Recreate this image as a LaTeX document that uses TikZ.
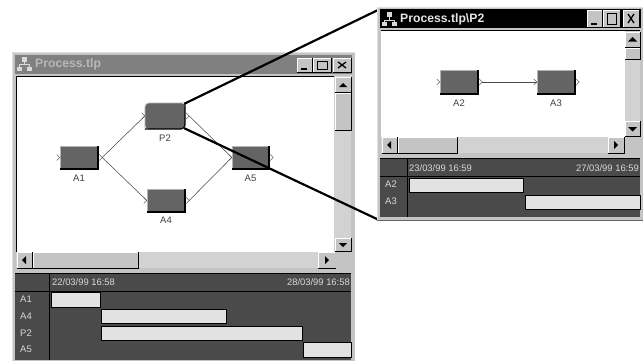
\documentclass[tikz,border=0pt]{standalone}
\usepackage{fontspec}
\setmainfont{Liberation Sans}
\definecolor{winbg}{HTML}{C4C4C4}
\definecolor{ganttbg}{HTML}{4A4A4A}
\definecolor{barfill}{HTML}{E2E2E2}
\definecolor{nodefill}{HTML}{646464}
\definecolor{hatch}{HTML}{D2D2D2}
\definecolor{titlegray}{HTML}{808080}
\definecolor{titletext}{HTML}{B8B8B8}
\definecolor{ganttxt}{HTML}{D8D8D8}
\tikzset{
  x=1pt,y=-1pt,
  lbl/.style={font=\fontsize{9.5}{10}\selectfont,text=black!75,inner sep=0pt},
  hdr/.style={font=\fontsize{9.4}{10}\selectfont,text=ganttxt,inner sep=0pt},
  rowlbl/.style={font=\fontsize{9.5}{10}\selectfont,text=ganttxt,inner sep=0pt,anchor=west},
  conn/.style={draw=black!70,line width=.55pt},
  port/.style={draw=black!60,line width=.5pt},
  zoomline/.style={draw=black,line width=2.2pt},
  proc/.style={fill=nodefill,inner sep=0pt,draw=none},
  gbar/.style={fill=barfill,draw=black,line width=.6pt},
  gline/.style={draw=black,line width=.8pt}
}
% raised 3D box
\newcommand{\raisedbox}[5][winbg]{%
  \fill[#1] (#2,#3) rectangle (#4,#5);
  \draw[white,line width=.8pt] (#2,#5) -- (#2,#3) -- (#4,#3);
  \draw[black,line width=.9pt] (#2,#5) -- (#4,#5) -- (#4,#3);
}
% process box: name, x1, y1, x2, y2, label, label y, extra options
\newcommand{\procbox}[8][]{%
  \node[proc,#1,minimum width=#4pt-#2pt,minimum height=#5pt-#3pt] (#8) at ({(#2+#4)/2},{(#3+#5)/2}) {};
  \draw[black!30,line width=.8pt,#1] (#2,#5) -- (#2,#3) -- (#4,#3);
  \draw[black,line width=1.1pt,#1] (#2,#5) -- (#4,#5) -- (#4,#3);
  \draw[port] ([xshift=-3pt,yshift=3pt]#8.west) -- (#8.west) -- ([xshift=-3pt,yshift=-3pt]#8.west);
  \draw[port] ([xshift=1pt,yshift=3pt]#8.east) -- ([xshift=4pt]#8.east) -- ([xshift=1pt,yshift=-3pt]#8.east);
  \node[lbl] (#8label) at ({(#2+#4)/2},#7) {#6};
}
\newcommand{\titlebtns}[9]{%
  \raisedbox{#3}{#1}{#4}{#2}
  \raisedbox{#5}{#1}{#6}{#2}
  \raisedbox{#7}{#1}{#8}{#2}
  \draw[black,line width=1.3pt] (#3+4,#2-3) -- (#3+10,#2-3);
  \draw[black,line width=.7pt] (#5+4,#1+3) rectangle (#6-4,#2-3);
  \draw[black,line width=1.4pt] (#5+4,#1+3.5) -- (#6-4,#1+3.5);
  \draw[black,line width=1.3pt] (#7+5,#1+4) -- (#8-5,#2-4) (#7+5,#2-4) -- (#8-5,#1+4);
}
\newcommand{\treeicon}[3]{%
  \fill[#3] (#1+5,#2) rectangle (#1+10,#2+5);
  \draw[#3,line width=1pt] (#1+7.5,#2+5) -- (#1+7.5,#2+8) (#1+2.5,#2+10) -- (#1+2.5,#2+8) -- (#1+12.5,#2+8) -- (#1+12.5,#2+10);
  \fill[#3] (#1,#2+10) rectangle (#1+5,#2+14);
  \fill[#3] (#1+10,#2+10) rectangle (#1+15,#2+14);
}
\begin{document}
\begin{tikzpicture}
\useasboundingbox (0,0) rectangle (644,362);
\fill[white] (0,0) rectangle (644,362);

% ===== LEFT WINDOW =====
\fill[winbg] (12,52) rectangle (355,361);
\draw[black!12,line width=.8pt] (12,361) -- (12,52) -- (355,52);
\fill[titlegray] (15,55) rectangle (352,74);
\treeicon{17}{56.5}{white!85!black}
\node[anchor=west,inner sep=0pt,text=titletext,font=\bfseries\fontsize{12.2}{14}\selectfont] (lefttitle) at (35,64) {Process.tlp};
\titlebtns{58}{72}{297}{312}{313}{331}{333}{351}{}
\fill[white] (16,76) rectangle (334,252);
\draw[black,line width=.8pt] (16,76) -- (351,76) (16,76) -- (16,268);
% vertical scrollbar
\fill[hatch] (334,76) rectangle (351,252);
\raisedbox{335}{77}{351}{92}
\fill[black] (339,87) -- (347,87) -- (343,83) -- cycle;
\raisedbox{335}{93}{351}{130}
\raisedbox{335}{238}{351}{251}
\fill[black] (339,243) -- (347,243) -- (343,247) -- cycle;
% horizontal scrollbar
\fill[hatch] (16,252) rectangle (334,268);
\raisedbox{17}{252}{32}{268}
\fill[black] (26,256) -- (26,264) -- (22,260) -- cycle;
\raisedbox{33}{252}{138}{268}
\raisedbox{318}{252}{335}{268}
\fill[black] (325,256) -- (325,264) -- (329,260) -- cycle;
\fill[winbg] (335,252) rectangle (351,268);
% process nodes
\procbox{60}{146}{98}{169}{A1}{178}{A1}
\procbox[rounded corners=4pt]{145}{103}{185}{129}{P2}{138}{P2}
\procbox{147}{189}{185}{212}{A4}{220}{A4}
\procbox{232}{146}{269}{169}{A5}{178}{A5}
\draw[conn] ([xshift=4pt]A1.east) -- (P2.west);
\draw[conn] ([xshift=4pt]A1.east) -- (A4.west);
\draw[conn] ([xshift=4pt]P2.east) -- (A5.west);
\draw[conn] ([xshift=4pt]A4.east) -- (A5.west);
% Gantt
\fill[ganttbg] (15,273) rectangle (351,360);
\draw[gline] (15,273) -- (351,273) (15,291) -- (351,291) (49.5,273) -- (49.5,360);
\node[hdr,anchor=west] (lh1) at (52,282) {22/03/99 16:58};
\node[hdr,anchor=east] (lh2) at (350,282) {28/03/99 16:58};
\node[rowlbl] (lr1) at (20,299) {A1};
\node[rowlbl] (lr2) at (20,316) {A4};
\node[rowlbl] (lr3) at (20,333) {P2};
\node[rowlbl] (lr4) at (20,349) {A5};
\draw[gbar] (51,292.5) rectangle (100,307);
\draw[gbar] (101,309) rectangle (226,323);
\draw[gbar] (101,326) rectangle (302,340);
\draw[gbar] (303,342) rectangle (351,357);

% ===== ZOOM LINES =====
\coordinate (zoomtop) at (379,9.5);
\coordinate (zoombot) at (379,220);
\draw[zoomline] (P2.north east) ++(-1,1) -- (zoomtop);
\draw[zoomline] (P2.south east) ++(-1,-1) -- (zoombot);

% ===== RIGHT WINDOW =====
\fill[winbg] (377,7) rectangle (643,220);
\draw[black!12,line width=.8pt] (377,220) -- (377,7) -- (643,7);
\draw[black!60,line width=.8pt] (377,220) -- (643,220);
\fill[black] (380,9) rectangle (641,28);
\treeicon{382}{12}{white!85!black}
\node[anchor=west,inner sep=0pt,text=white!90!black,font=\bfseries\fontsize{12.2}{14}\selectfont] (righttitle) at (400,19) {Process.tlp\textbackslash P2};
\titlebtns{10}{27}{587}{602}{603}{620}{623}{639}{}
\fill[white] (381,31) rectangle (625,137);
\draw[black,line width=.8pt] (381,30.5) -- (640,30.5);
% vertical scrollbar
\fill[hatch] (625,31) rectangle (640,137);
\raisedbox{625}{32}{640}{47}
\fill[black] (628,41.5) -- (637,41.5) -- (632.5,37) -- cycle;
\raisedbox{625}{48}{640}{59}
\raisedbox{625}{121}{640}{136}
\fill[black] (628,127) -- (637,127) -- (632.5,131.5) -- cycle;
% horizontal scrollbar
\fill[hatch] (381,137) rectangle (625,153);
\raisedbox{382}{137}{397}{153}
\fill[black] (391,141) -- (391,149) -- (387,145) -- cycle;
\raisedbox{398}{137}{457}{153}
\raisedbox{608}{137}{624}{153}
\fill[black] (614,141) -- (614,149) -- (618,145) -- cycle;
\fill[winbg] (625,137) rectangle (640,153);
% process nodes
\procbox{440}{70}{478}{94}{A2}{103}{A2}
\procbox{537}{70}{575}{94}{A3}{103}{A3}
\draw[conn] ([xshift=4pt]A2.east) -- (A3.west);
% Gantt
\fill[ganttbg] (380,158) rectangle (640,217);
\draw[gline] (380,158) -- (640,158) (380,176) -- (640,176) (407.5,158) -- (407.5,217);
\node[hdr,anchor=west] (rh1) at (409,168) {23/03/99 16:59};
\node[hdr,anchor=east] (rh2) at (639,168) {27/03/99 16:59};
\node[rowlbl] (rr1) at (385,184) {A2};
\node[rowlbl] (rr2) at (385,201) {A3};
\draw[gbar] (409,178) rectangle (523,192);
\draw[gbar] (525,195) rectangle (640,209);
\end{tikzpicture}
\end{document}
